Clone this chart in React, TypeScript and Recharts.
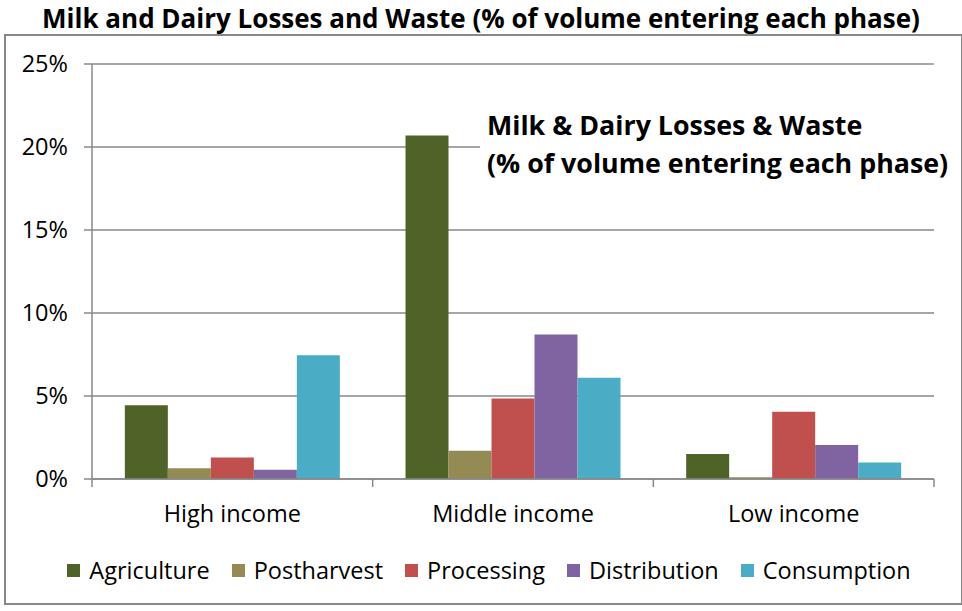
import React from "react";
import { BarChart, Bar, XAxis, YAxis, CartesianGrid, Legend } from "recharts";

const categories = ["High income", "Middle income", "Low income"];
const seriesNames = ["Agriculture", "Postharvest", "Processing", "Distribution", "Consumption"];
const agriculture = [4.45, 20.7, 1.5];
const postharvest = [0.65, 1.7, 0.1];
const processing = [1.3, 4.85, 4.05];
const distribution = [0.55, 8.7, 2.05];
const consumption = [7.45, 6.1, 1.0];
const yTicks = [0, 5, 10, 15, 20, 25];
const colors = ["#4F6228", "#948A54", "#C0504D", "#8064A2", "#4BACC6"];

const seriesValues = [agriculture, postharvest, processing, distribution, consumption];
const data = categories.map((c, i) => {
  const row: any = { name: c };
  seriesNames.forEach((s, j) => (row[s] = seriesValues[j][i]));
  return row;
});

const FONT = "'Open Sans', sans-serif";
const GRID = "#888888";
const FS = 23.5;

const XTick = (props: any) => {
  const { x, y, payload, index } = props;
  const off = payload && payload.offset ? payload.offset : 0;
  const last = index === categories.length - 1;
  return (
    <g>
      <line x1={x - off} x2={x - off} y1={y} y2={y + 8} stroke={GRID} strokeWidth={1.5} />
      {last && <line x1={x + off} x2={x + off} y1={y} y2={y + 8} stroke={GRID} strokeWidth={1.5} />}
      <text x={x} y={y + 26} dy="0.71em" textAnchor="middle" fill="#000" fontSize={FS} fontFamily={FONT}>
        {payload.value}
      </text>
    </g>
  );
};

const LegendContent = (props: any) => {
  const items = seriesNames.map((n) => (props.payload || []).find((p: any) => p.value === n)).filter(Boolean);
  return (
    <div
      style={{
        height: 30,
        display: "flex",
        justifyContent: "center",
        alignItems: "center",
        paddingLeft: 44,
        fontFamily: FONT,
        fontSize: FS,
        color: "#000",
        whiteSpace: "nowrap",
      }}
    >
      {items.map((p: any) => (
        <span key={p.value} style={{ display: "inline-flex", alignItems: "center", margin: "0 11px" }}>
          <span style={{ width: 13, height: 13, background: p.color, display: "inline-block", marginRight: 9 }} />
          <span>{p.value}</span>
        </span>
      ))}
    </div>
  );
};

export default function App() {
  return (
    <div style={{ position: "absolute", left: 0, top: 0, width: 962, height: 611, background: "#fff" }}>
      <div
        style={{
          position: "absolute",
          left: 4,
          top: 34,
          width: 955,
          height: 567,
          border: "2px solid #888",
        }}
      />
      <div
        style={{
          position: "absolute",
          left: 0,
          top: 1,
          width: 962,
          textAlign: "center",
          fontFamily: FONT,
          fontWeight: 700,
          fontSize: 26,
          lineHeight: "34px",
          color: "#000",
          whiteSpace: "nowrap",
        }}
      >
        Milk and Dairy Losses and Waste (% of volume entering each phase)
      </div>
      <div style={{ position: "absolute", left: 0, top: 0 }}>
        <BarChart
          width={962}
          height={611}
          data={data}
          margin={{ top: 64, right: 28, left: 0, bottom: 26 }}
          barGap={0}
          barCategoryGap="11.7%"
        >
          <CartesianGrid vertical={false} stroke={GRID} strokeWidth={1.5} />
          <XAxis
            dataKey="name"
            stroke={GRID}
            strokeWidth={1.5}
            tickLine={false}
            tickSize={0}
            tickMargin={0}
            height={76}
            interval={0}
            tick={<XTick />}
          />
          <YAxis
            domain={[0, 25]}
            ticks={yTicks}
            tickFormatter={(v: number) => v + "%"}
            width={92}
            stroke={GRID}
            strokeWidth={1.5}
            tickSize={8}
            tickMargin={16}
            tick={{ fill: "#000", fontSize: FS, fontFamily: FONT }}
          />
          <Legend verticalAlign="bottom" content={<LegendContent />} />
          {seriesNames.map((s, j) => (
            <Bar key={s} dataKey={s} fill={colors[j]} isAnimationActive={false} />
          ))}
        </BarChart>
      </div>
      <div
        style={{
          position: "absolute",
          left: 480,
          top: 106,
          width: 476,
          height: 84,
          background: "#fff",
        }}
      >
        <div
          style={{
            position: "absolute",
            left: 7,
            top: 0,
            fontFamily: FONT,
            fontWeight: 700,
            fontSize: 26.8,
            lineHeight: "38px",
            color: "#000",
            whiteSpace: "nowrap",
          }}
        >
          Milk &amp; Dairy Losses &amp; Waste
          <br />
          (% of volume entering each phase)
        </div>
      </div>
    </div>
  );
}
